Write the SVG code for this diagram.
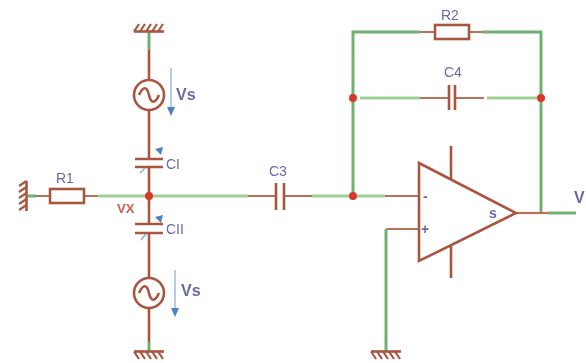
<svg xmlns="http://www.w3.org/2000/svg" width="586" height="363" viewBox="0 0 586 363">
<style>
.b{fill:none;stroke:#a9553f;stroke-width:2.6}
.bt{fill:none;stroke:#b8705c;stroke-width:2.2}
.g{fill:none;stroke:#6fb070;stroke-width:3}
.gl{fill:none;stroke:#a0d098;stroke-width:3}
.h{fill:none;stroke:#a9553f;stroke-width:2.2}
.d{fill:#d8392b}
.a{fill:none;stroke:#8fb1dc;stroke-width:1.3}
.ah{fill:#4d80c4}
.vt{fill:none;stroke:#7fa3d4;stroke-width:1.2}
text{font-family:"Liberation Sans",Arial,sans-serif;font-size:14px;fill:#6a68a8}
.big{font-size:16px;font-weight:bold}
</style>
<defs>
<g id="hatch"><path class="b" d="M-15 3.5H15"/><path class="h" d="M-15 3.5L-10 -4M-9 3.5L-4 -4M-3 3.5L2 -4M3 3.5L8 -4M9 3.5L14 -4"/></g>
<g id="src"><circle class="b" r="15"/><path class="b" d="M-10 0C-6 -9 -2 -9 0 0S6 9 10 0" stroke-width="1.8"/></g>
<filter id="soft" x="-5%" y="-5%" width="110%" height="110%"><feGaussianBlur stdDeviation="0.6"/></filter>
</defs>
<rect width="586" height="363" fill="#fff"/>
<g filter="url(#soft)">
<g id="connectors">
<path class="g" d="M149 32V50"/>
<path class="b" d="M149 50V80M149 110V159M149 167V224M149 233V278M149 308V342"/>
<path class="g" d="M149 342V352"/>
<path class="g" d="M28 196H36"/>
<path class="bt" d="M36 196H50M84 196H98"/>
<path class="gl" d="M98 196H248"/>
<path class="bt" d="M248 196H276M284 196H312"/>
<path class="gl" d="M312 196H385"/>
<path class="bt" d="M385 196H419"/>
<path class="g" d="M353 196V32H420"/>
<path class="bt" d="M420 32H435M469 32H482"/>
<path class="g" d="M482 32H541V213"/>
<path class="gl" d="M360 98H420M487 98H541"/>
<path class="bt" d="M420 98H449M455 98H484"/>
<path class="bt" d="M419 229H386"/>
<path class="g" d="M386 229V352"/>
<path class="bt" d="M516 213H548"/>
<path class="g" d="M548 213H576"/>
</g>
<g id="gnd-top"><use href="#hatch" transform="translate(149 28)"/></g>
<g id="gnd-left"><use href="#hatch" transform="translate(23 196) rotate(90) scale(1 -1)"/></g>
<g id="gnd-bottom"><use href="#hatch" transform="translate(149 355) scale(1 -1)"/></g>
<g id="gnd-opamp"><use href="#hatch" transform="translate(386 355) scale(1 -1)"/></g>
<g id="vs1"><use href="#src" transform="translate(149 95)"/>
<path class="a" d="M171 68V108"/><path class="ah" d="M167 107H175L171 116Z"/><text class="big" x="176" y="100">Vs</text></g>
<g id="vs2"><use href="#src" transform="translate(149 293)"/>
<path class="a" d="M175 270V308"/><path class="ah" d="M171 308H179L175 317Z"/><text class="big" x="181" y="296">Vs</text></g>
<g id="c1"><path class="b" d="M135 159H163M135 167H163"/><path class="vt" d="M140 173L145 168"/><path class="ah" d="M155 149L163 147L161 155Z"/><text x="166" y="169">CI</text></g>
<g id="c2"><path class="b" d="M135 224H163M135 233H163"/><path class="vt" d="M141 240L146 234"/><path class="ah" d="M155 217L163 215L161 223Z"/><text x="166" y="234">CII</text></g>
<g id="r1"><rect class="b" x="50" y="189" width="34" height="14"/><text x="56" y="183">R1</text></g>
<g id="vx"><circle class="d" cx="149" cy="196" r="4"/><text x="117" y="213" style="fill:#d0604a;font-weight:bold;font-size:13px">VX</text></g>
<g id="c3"><path class="b" d="M276 183V210M284 183V210"/><text x="269" y="176">C3</text></g>
<g id="n1"><circle class="d" cx="353" cy="196" r="4"/></g>
<g id="n2"><circle class="d" cx="353" cy="98" r="4"/></g>
<g id="n3"><circle class="d" cx="541" cy="98" r="4"/></g>
<g id="r2"><rect class="b" x="435" y="25" width="34" height="14"/><text x="441" y="20">R2</text></g>
<g id="c4"><path class="b" d="M449 85V110M455 85V110"/><text x="444" y="77">C4</text></g>
<g id="opamp"><path class="b" d="M419 163L516 213L419 261Z M451 146V179M451 245V278"/>
<text x="423" y="201" style="font-weight:bold">-</text><text x="421" y="234" style="font-weight:bold">+</text><text x="489" y="218" style="font-weight:bold">s</text></g>
<g id="vout"><text class="big" x="574" y="203">V</text></g>
</g>
</svg>
